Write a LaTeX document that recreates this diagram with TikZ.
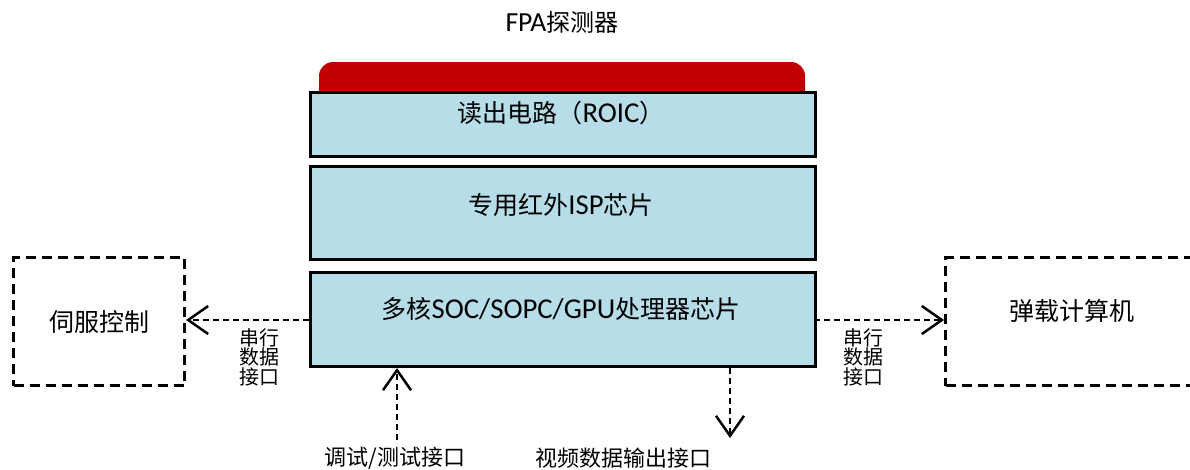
\documentclass[tikz,border=0pt]{standalone}
\usepackage{fontspec}
\setmainfont[Scale=1.15]{Carlito}
\newfontfamily\cjk{Noto Sans CJK SC}
\usetikzlibrary{arrows.meta}
\definecolor{chipblue}{HTML}{B7DDE8}
\definecolor{fpared}{HTML}{C00000}
\tikzset{
  chip/.style={draw=black, line width=3pt, fill=chipblue, minimum width=505pt, inner sep=0pt},
  chiptext/.style={inner sep=0pt, font=\fontsize{25}{28}\selectfont},
  extbox/.style={draw=black, line width=3pt, dash pattern=on 10pt off 6pt, inner sep=0pt, font=\fontsize{25}{28}\selectfont\cjk},
  link/.style={line width=2pt, dash pattern=on 6pt off 4pt, -{Straight Barb[length=20pt,width=28pt,line width=2.5pt]}},
  vlabel/.style={align=center, inner sep=0pt, font=\fontsize{20}{18}\selectfont\cjk},
  blabel/.style={inner sep=0pt, font=\fontsize{22}{26}\selectfont\cjk},
}
\begin{document}
\begin{tikzpicture}[x=1pt,y=-1pt]
\useasboundingbox (0,0) rectangle (1190,469);
\clip (0,0) rectangle (1190,469);
% FPA detector
\node[chiptext, font=\fontsize{24}{28}\selectfont] (title) at (562,22) {FPA{\cjk 探测器}};
\fill[fpared, rounded corners=14pt] (319,110) -- (319,62) -- (805,62) -- (805,110) [sharp corners] -- cycle;
\node[chip, minimum height=64pt, anchor=north west] (roic) at (309,91) {};
\node[chiptext] (roict) at (561,113) {{\cjk 读出电路（}ROIC{\cjk ）}};
\node[chip, minimum height=93pt, anchor=north west] (isp) at (309,165) {};
\node[chiptext] (ispt) at (561,205) {{\cjk 专用红外}ISP{\cjk 芯片}};
\node[chip, minimum height=94pt, anchor=north west] (soc) at (309,271) {};
\node[chiptext] (soct) at (561,309) {{\cjk 多核}SOC/SOPC/GPU{\cjk 处理器芯片}};
% external boxes
\node[extbox, minimum width=171pt, minimum height=128pt, anchor=north west] (servo) at (12,256) {伺服控制};
\node[extbox, minimum width=260pt, minimum height=128pt, anchor=north west] (comp) at (944,256) {};
\node[inner sep=0pt, font=\fontsize{25}{28}\selectfont\cjk] (compt) at (1072,311) {弹载计算机};
% connectors
\coordinate (socL) at (309,320);
\coordinate (socR) at (814,320);
\draw[link] (socL) -- (servo.east |- socL);
\draw[link] (socR) -- (comp.west |- socR);
\node[vlabel] (lbl1) at (259,357) {串行\\数据\\接口};
\node[vlabel] (lbl2) at (863,357) {串行\\数据\\接口};
\coordinate (dbg) at (397,440);
\coordinate (vid) at (730,438);
\draw[link] (dbg) -- (dbg |- soc.south);
\draw[link] (vid |- soc.south) -- (vid);
\node[blabel] (dbgt) at (395,458) {调试/测试接口};
\node[blabel] (vidt) at (623,458) {视频数据输出接口};
\end{tikzpicture}
\end{document}
